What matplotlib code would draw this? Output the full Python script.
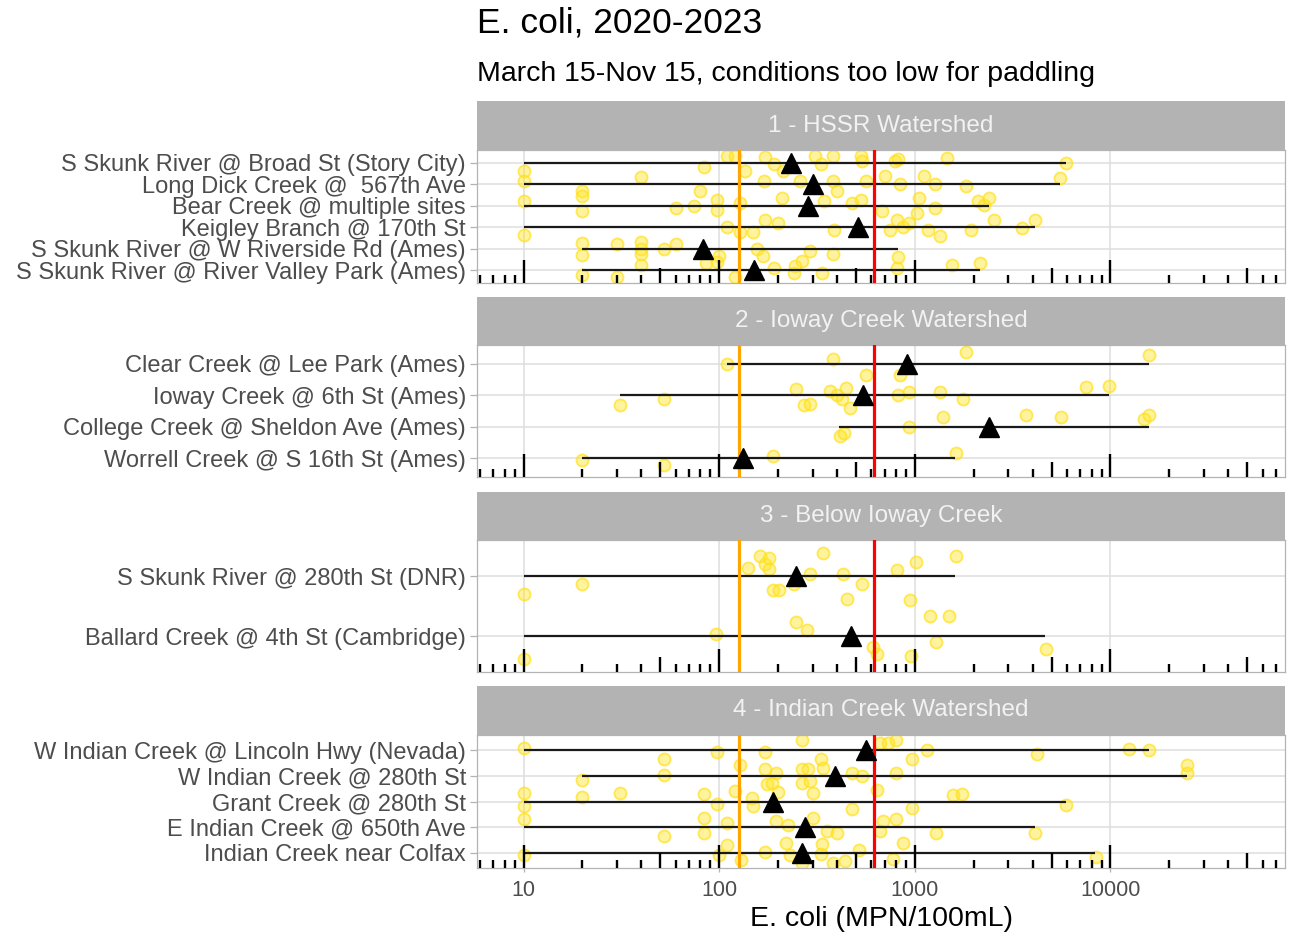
import numpy as np
import matplotlib
matplotlib.use("Agg")
import matplotlib.pyplot as plt
from matplotlib.ticker import FixedLocator, NullLocator

plt.rcParams['font.family'] = ['Liberation Sans', 'DejaVu Sans']

# DATA #
title = "E. coli, 2020-2023"
subtitle = "March 15-Nov 15, conditions too low for paddling"
xlabel = "E. coli (MPN/100mL)"
geo_limit = 126      # orange line
single_limit = 620   # red line

# 1 - HSSR Watershed
hssr_sites = ["S Skunk River @ Broad St (Story City)", "Long Dick Creek @  567th Ave",
              "Bear Creek @ multiple sites", "Keigley Branch @ 170th St",
              "S Skunk River @ W Riverside Rd (Ames)", "S Skunk River @ River Valley Park (Ames)"]
hssr_min = [10, 10, 10, 10, 20, 20]
hssr_max = [5900, 5500, 2400, 4100, 820, 2150]
hssr_gm = [233, 300, 285, 515, 83, 150]
hssr_vals = [
    [10, 84, 110, 120, 136, 172, 190, 213, 310, 330, 380, 528, 540, 790, 820, 1460, 5900],
    [10, 20, 40, 80, 170, 260, 380, 400, 560, 705, 840, 1110, 1270, 1830, 5500],
    [10, 20, 20, 60, 74, 98, 98, 128, 210, 345, 480, 528, 680, 1050, 1020, 1270, 2100, 2250, 2400],
    [10, 110, 128, 149, 172, 200, 385, 750, 810, 870, 930, 1170, 1340, 1930, 2530, 3540, 4100],
    [20, 20, 30, 40, 40, 40, 52, 60, 100, 156, 167, 290, 380, 820],
    [20, 30, 40, 86, 98, 121, 190, 240, 245, 265, 335, 810, 1550, 2150],
]
hssr_jit = [
    [0.4, 0.2, -0.3, -0.3, 0.4, -0.28, 0.05, 0.4, -0.33, 0.05, -0.33, -0.33, -0.1, -0.1, -0.2, -0.25, 0.0],
    [-0.14, 0.32, -0.32, 0.32, -0.14, -0.14, -0.14, 0.32, -0.14, -0.4, 0.0, -0.37, 0.0, 0.1, -0.28],
    [-0.23, -0.46, 0.23, 0.1, 0.0, -0.28, 0.2, -0.14, -0.37, -0.23, -0.14, -0.28, 0.23, -0.37, 0.32, 0.1, -0.23, -0.05, -0.37],
    [0.37, 0.0, 0.23, 0.23, -0.33, -0.2, 0.14, 0.14, -0.33, 0.0, -0.2, 0.14, 0.42, 0.14, -0.33, 0.05, -0.33],
    [-0.28, 0.28, -0.23, -0.33, 0.0, 0.23, 0.0, -0.23, 0.33, 0.0, 0.33, 0.1, 0.23, 0.37],
    [0.23, 0.33, -0.23, -0.33, -0.4, 0.33, -0.1, 0.14, -0.2, -0.42, 0.14, -0.1, -0.23, -0.33],
]

# 2 - Ioway Creek Watershed
ioway_sites = ["Clear Creek @ Lee Park (Ames)", "Ioway Creek @ 6th St (Ames)",
               "College Creek @ Sheldon Ave (Ames)", "Worrell Creek @ S 16th St (Ames)"]
ioway_min = [110, 31, 410, 20]
ioway_max = [15700, 9800, 15700, 1600]
ioway_gm = [910, 545, 2390, 133]
ioway_vals = [
    [110, 380, 560, 840, 1830, 15800],
    [31, 52, 246, 270, 290, 370, 400, 425, 445, 466, 820, 930, 1340, 1760, 7500, 9800],
    [415, 435, 930, 1400, 3700, 5600, 14800, 15800],
    [20, 52, 188, 1620],
]
ioway_jit = [
    [0.0, -0.15, 0.34, 0.34, -0.37, -0.28],
    [0.3, 0.12, -0.2, 0.3, 0.28, -0.15, 0.0, 0.12, -0.22, 0.4, 0.0, -0.12, -0.12, 0.12, -0.25, -0.3],
    [0.3, 0.2, 0.0, -0.3, -0.37, -0.3, -0.25, -0.37],
    [0.06, 0.22, -0.06, -0.15],
]

# 3 - Below Ioway Creek
below_sites = ["S Skunk River @ 280th St (DNR)", "Ballard Creek @ 4th St (Cambridge)"]
below_min = [10, 10]
below_max = [1600, 4600]
below_gm = [247, 470]
below_vals = [
    [10, 20, 141, 162, 172, 180, 180, 188, 202, 240, 290, 340, 430, 450, 535, 810, 1010, 940, 1630],
    [10, 96, 247, 280, 610, 640, 960, 1290, 1200, 1500, 4700],
]
below_jit = [
    [0.3, 0.13, -0.13, -0.33, -0.2, -0.3, -0.12, 0.23, 0.23, 0.13, -0.03, -0.38, -0.03, 0.38, 0.13, -0.1, -0.23, 0.4, -0.33],
    [0.38, -0.03, -0.23, -0.1, 0.18, 0.3, 0.33, 0.1, -0.33, -0.33, 0.22],
]

# 4 - Indian Creek Watershed
indian_sites = ["W Indian Creek @ Lincoln Hwy (Nevada)", "W Indian Creek @ 280th St",
                "Grant Creek @ 280th St", "E Indian Creek @ 650th Ave", "Indian Creek near Colfax"]
indian_min = [10, 20, 10, 10, 10]
indian_max = [15700, 24500, 5900, 4100, 8300]
indian_gm = [560, 390, 188, 275, 265]
indian_vals = [
    [10, 52, 98, 172, 265, 330, 660, 730, 800, 970, 1150, 4200, 12500, 15700],
    [20, 52, 128, 172, 175, 187, 194, 265, 285, 265, 290, 340, 480, 540, 800, 24500, 24500],
    [10, 10, 20, 31, 84, 98, 121, 147, 148, 200, 300, 480, 640, 970, 1560, 1740, 5900],
    [10, 52, 84, 84, 110, 194, 225, 300, 355, 400, 660, 690, 800, 1290, 4100],
    [10, 100, 110, 130, 172, 220, 230, 265, 330, 335, 380, 440, 520, 770, 870, 8400],
]
indian_jit = [
    [-0.08, 0.32, 0.08, 0.08, -0.4, 0.32, -0.28, -0.28, -0.4, 0.32, 0.0, 0.16, -0.04, 0.0],
    [0.16, -0.04, -0.44, -0.28, 0.32, 0.28, -0.12, -0.28, -0.28, 0.28, 0.2, -0.32, -0.12, 0.0, -0.12, -0.44, -0.12],
    [-0.32, 0.16, -0.16, -0.32, -0.28, 0.08, -0.4, -0.12, 0.16, -0.36, -0.32, 0.28, -0.44, 0.24, -0.24, -0.28, 0.12],
    [-0.32, 0.36, -0.36, 0.24, -0.16, -0.24, -0.08, -0.36, 0.16, 0.24, 0.16, -0.24, -0.32, 0.24, 0.24],
    [0.08, 0.08, -0.28, 0.28, -0.04, -0.36, 0.08, 0.4, 0.04, -0.32, 0.4, 0.32, -0.12, 0.24, -0.36, 0.16],
]

panels = [
    ("1 - HSSR Watershed", hssr_sites, hssr_min, hssr_max, hssr_gm, hssr_vals, hssr_jit),
    ("2 - Ioway Creek Watershed", ioway_sites, ioway_min, ioway_max, ioway_gm, ioway_vals, ioway_jit),
    ("3 - Below Ioway Creek", below_sites, below_min, below_max, below_gm, below_vals, below_jit),
    ("4 - Indian Creek Watershed", indian_sites, indian_min, indian_max, indian_gm, indian_vals, indian_jit),
]

# LAYOUT (pixels) #
W, H = 1295, 940
X0, X1 = 477, 1285
strip_tops = [101, 297, 492, 686]
panel_tops = [150, 345, 540, 735]
panel_bots = [283, 477, 672, 868]
XLIM = (5.78, 78000)


def frac(l, t, r, b):
    return [l / W, 1 - b / H, (r - l) / W, (b - t) / H]


fig = plt.figure(figsize=(W / 100, H / 100), dpi=100)

fig.text(X0 / W, 1 - 23 / H, title, fontsize=25.5, va='center', ha='left', color='black')
fig.text(X0 / W, 1 - 74 / H, subtitle, fontsize=20.5, va='center', ha='left', color='black')

# log tick positions and lengths
lt_x, lt_len = [], []
for e in range(0, 5):
    for m in range(1, 10):
        v = m * 10 ** e
        if XLIM[0] <= v <= XLIM[1]:
            lt_x.append(v)
            lt_len.append(23 if m == 1 else (15 if m == 5 else 8))

for k, (strip, sites, mins, maxs, gms, vals, jits) in enumerate(panels):
    ph = panel_bots[k] - panel_tops[k]
    ax = fig.add_axes(frac(X0, panel_tops[k], X1, panel_bots[k]))
    n = len(sites)
    ax.set_xscale('log')
    ax.set_xlim(*XLIM)
    ax.set_ylim(n - 1 + 0.6, -0.6)

    ax.xaxis.set_major_locator(FixedLocator([10, 100, 1000, 10000]))
    ax.xaxis.set_minor_locator(NullLocator())
    ax.set_yticks(range(n))
    ax.set_yticklabels(sites)
    ax.grid(True, which='major', color='#DEDEDE', lw=1.1, zorder=0)
    ax.set_axisbelow(True)
    for s in ax.spines.values():
        s.set_color('#B3B3B3')
        s.set_linewidth(0.9)
    ax.tick_params(axis='y', length=5, width=0.9, color='#B3B3B3', labelsize=17,
                   labelcolor='#4D4D4D', pad=3)
    if k == len(panels) - 1:
        ax.set_xticklabels(['10', '100', '1000', '10000'])
        ax.tick_params(axis='x', length=3, width=0.9, color='#B3B3B3', labelsize=15.5,
                       labelcolor='#4D4D4D', pad=6)
        ax.set_xlabel(xlabel, fontsize=20.5, color='black', labelpad=3)
    else:
        ax.tick_params(axis='x', length=0, labelbottom=False)

    # jittered samples
    for i in range(n):
        ys = [i + j for j in jits[i]]
        ax.scatter(vals[i], ys, s=75, facecolor=(1.0, 0.9, 0.15, 0.45),
                   edgecolor=(1.0, 0.88, 0.1, 0.7), linewidth=1.3, zorder=2)

    # range lines
    ax.hlines(range(n), mins, maxs, color='#1A1A1A', lw=1.6, zorder=3)

    # thresholds
    ax.axvline(geo_limit, color='#FFA500', lw=2.3, zorder=4)
    ax.axvline(single_limit, color='#FF0000', lw=2.3, zorder=4)

    # geometric mean
    ax.plot(gms, range(n), linestyle='none', marker='^', markersize=15,
            color='black', zorder=5)

    # log ticks along the bottom
    ax.vlines(lt_x, 0, [L / ph for L in lt_len], transform=ax.get_xaxis_transform(),
              color='black', lw=1.7, zorder=6)

    # strip
    sax = fig.add_axes(frac(X0, strip_tops[k], X1, panel_tops[k]))
    sax.set_facecolor('#B3B3B3')
    sax.set_xticks([])
    sax.set_yticks([])
    for s in sax.spines.values():
        s.set_visible(False)
    sax.text(0.5, 0.5, strip, transform=sax.transAxes, ha='center', va='center',
             fontsize=17.5, color='#F2F2F2')

fig.savefig('out.png', dpi=100)
